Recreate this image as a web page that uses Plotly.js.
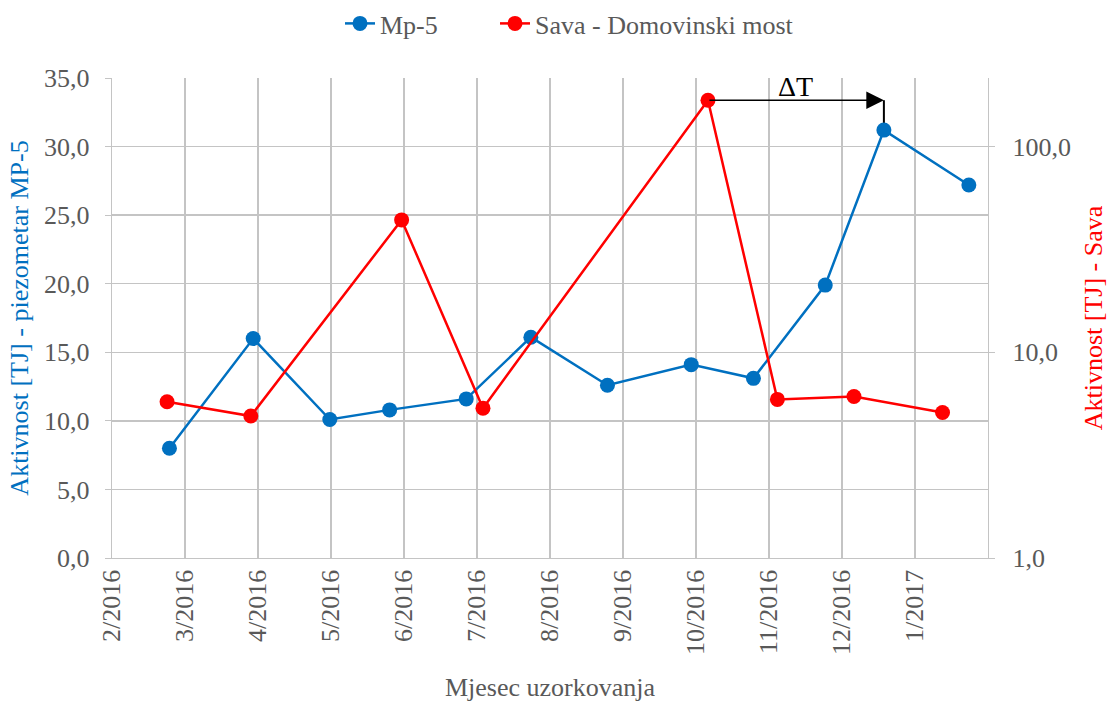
<!DOCTYPE html>
<html>
<head>
<meta charset="utf-8">
<script src="https://cdn.plot.ly/plotly-3.0.1.min.js"></script>
<style>html,body{margin:0;padding:0;background:#fff;}#chart{width:1108px;height:702px;}</style>
</head>
<body>
<div id="chart"></div>
<script>
// ---- data ----
const mp5Dates = ['2016-02-25','2016-03-31','2016-05-02','2016-05-27','2016-06-28','2016-07-25','2016-08-26','2016-09-30','2016-10-26','2016-11-25','2016-12-19 12:00','2017-01-24'];
const mp5Values = [8.0, 16.0, 10.1, 10.8, 11.6, 16.1, 12.6, 14.1, 13.1, 19.9, 31.2, 27.2];
const savaDates = ['2016-02-24','2016-03-30','2016-06-01','2016-07-05','2016-10-07','2016-11-05','2016-12-07','2017-01-13'];
const savaValues = [5.75, 4.9, 44, 5.35, 168, 5.9, 6.1, 5.1];
const tickLabels = ['2/2016','3/2016','4/2016','5/2016','6/2016','7/2016','8/2016','9/2016','10/2016','11/2016','12/2016','1/2017'];
const leftTickVals = [0,5,10,15,20,25,30,35];
const rightTickVals = [1,10,100];
const seriesNames = ['Mp-5','Sava - Domovinski most'];

// ---- layout helpers ----
const DAY = 86400000;
const start = Date.UTC(2016,1,1);
const step = 30.5*DAY;
const tickVals = tickLabels.map((_,i)=>new Date(start+i*step).toISOString());
const xEnd = new Date(start + tickLabels.length*step).toISOString();
const LEFT_MAX = 35;
const RIGHT_LOG_MAX = LEFT_MAX/15; // 30 left units = 2 decades
const grid = '#C4C4C4';
const txt = '#595959';
const font = 'Liberation Serif, Times New Roman, serif';
const FS = 26;

// arrow: from Sava peak to Mp-5 peak
const iS = savaValues.indexOf(Math.max(...savaValues));
const iM = mp5Values.indexOf(Math.max(...mp5Values));
const yArrow = Math.log10(savaValues[iS]) * LEFT_MAX / RIGHT_LOG_MAX;
const midMs = (new Date(savaDates[iS].replace(' ','T')+'Z').getTime() + new Date(mp5Dates[iM].replace(' ','T')+'Z').getTime())/2;

const traces = [
  {x: mp5Dates, y: mp5Values, name: seriesNames[0], type:'scatter', mode:'lines+markers', legend:'legend',
   line:{color:'#0070C0', width:2.5}, marker:{color:'#0070C0', size:15}, yaxis:'y'},
  {x: savaDates, y: savaValues, name: seriesNames[1], type:'scatter', mode:'lines+markers', legend:'legend2',
   line:{color:'#FF0000', width:2.5}, marker:{color:'#FF0000', size:15}, yaxis:'y2'}
];

const legendBase = {orientation:'h', xref:'container', xanchor:'left', yref:'container', y:1.0, yanchor:'top',
                    font:{family:font, size:FS, color:txt}, bgcolor:'rgba(0,0,0,0)'};

const layout = {
  width:1108, height:702,
  margin:{l:112, r:120, t:78, b:144},
  paper_bgcolor:'#fff', plot_bgcolor:'#fff',
  separators:', ',
  font:{family:font, size:FS, color:txt},
  showlegend:true,
  legend:Object.assign({}, legendBase, {x:340/1108}),
  legend2:Object.assign({}, legendBase, {x:495/1108}),
  xaxis:{type:'date', range:[new Date(start).toISOString(), xEnd], tickmode:'array', tickvals:tickVals, ticktext:tickLabels,
         tickangle:-90, showgrid:true, gridcolor:grid, gridwidth:1.3, showline:true, linecolor:grid, linewidth:1.3,
         ticks:'', zeroline:false, automargin:false, tickfont:{family:font,size:FS,color:txt},
         title:{text:'Mjesec uzorkovanja', font:{family:font,size:FS,color:txt}, standoff:26}},
  yaxis:{range:[0,LEFT_MAX], tickmode:'array', tickvals:leftTickVals, tickformat:'.1f', showgrid:true, gridcolor:grid, gridwidth:1.3,
         showline:true, linecolor:grid, linewidth:1.3, ticks:'outside', ticklen:6, tickcolor:grid, zeroline:false, automargin:false,
         ticklabelstandoff:10, tickfont:{family:font,size:FS,color:txt},
         title:{text:'Aktivnost [TJ] - piezometar MP-5', font:{family:font,size:FS,color:'#0070C0'}, standoff:8}},
  yaxis2:{type:'log', overlaying:'y', side:'right', range:[0,RIGHT_LOG_MAX], tickmode:'array', tickvals:rightTickVals, tickformat:'.1f',
          showgrid:false, showline:true, linecolor:grid, linewidth:1.3, ticks:'outside', ticklen:6, tickcolor:grid, zeroline:false, automargin:false,
          ticklabelstandoff:12, tickfont:{family:font,size:FS,color:txt},
          title:{text:'Aktivnost [TJ] - Sava', font:{family:font,size:FS,color:'#FF0000'}, standoff:18}},
  shapes:[
    {type:'line', xref:'x', yref:'y', x0:mp5Dates[iM], x1:mp5Dates[iM], y0:yArrow, y1:mp5Values[iM], line:{color:'#000', width:2}, layer:'below'}
  ],
  annotations:[
    {xref:'x', yref:'y', x:mp5Dates[iM], y:yArrow, axref:'x', ayref:'y', ax:savaDates[iS], ay:yArrow,
     showarrow:true, arrowhead:2, arrowsize:2.2, arrowwidth:1.6, arrowcolor:'#000', text:'', standoff:0},
    {xref:'x', yref:'y', x:new Date(midMs).toISOString(), y:yArrow, text:'ΔT', showarrow:false, yanchor:'bottom', yshift:-4,
     font:{family:font, size:28, color:'#000'}}
  ]
};

Plotly.newPlot('chart', traces, layout, {displayModeBar:false, staticPlot:true});
</script>
</body>
</html>
